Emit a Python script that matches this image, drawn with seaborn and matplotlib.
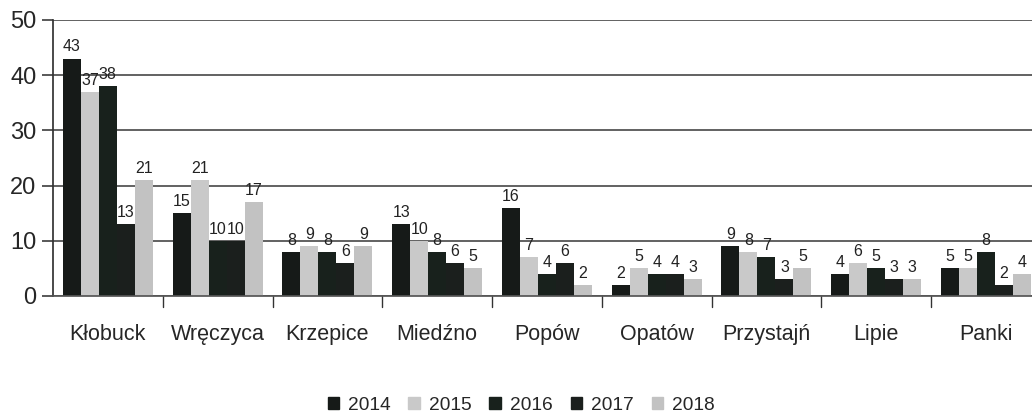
import matplotlib
matplotlib.use("Agg")
import matplotlib.pyplot as plt
import seaborn as sns
import pandas as pd

categories = ["Kłobuck", "Wręczyca", "Krzepice", "Miedźno", "Popów", "Opatów", "Przystajń", "Lipie", "Panki"]
years = ["2014", "2015", "2016", "2017", "2018"]
v2014 = [43, 15, 8, 13, 16, 2, 9, 4, 5]
v2015 = [37, 21, 9, 10, 7, 5, 8, 6, 5]
v2016 = [38, 10, 8, 8, 4, 4, 7, 5, 8]
v2017 = [13, 10, 6, 6, 6, 4, 3, 3, 2]
v2018 = [21, 17, 9, 5, 2, 3, 5, 3, 4]
series = [v2014, v2015, v2016, v2017, v2018]

rows = []
for y, vals in zip(years, series):
    for c, v in zip(categories, vals):
        rows.append({"gmina": c, "rok": y, "val": v})
df = pd.DataFrame(rows)

sns.set_theme(style="white")
plt.rcParams['font.family'] = ['Liberation Sans', 'DejaVu Sans']

palette = {"2014": "#161a18", "2015": "#c9c9c9", "2016": "#18211c", "2017": "#1b1f1d", "2018": "#c2c2c2"}

fig = plt.figure(figsize=(10.32, 4.16), dpi=100)
ax = fig.add_axes([53/1032, 1 - 296/416, (1032 - 53)/1032, (296 - 20)/416])

sns.barplot(data=df, x="gmina", y="val", hue="rok", order=categories, hue_order=years,
            palette=palette, width=0.82, dodge=True, ax=ax, legend=True, saturation=1,
            linewidth=0)

for cont in ax.containers:
    ax.bar_label(cont, padding=3, fontsize=11.5, color="#222222")

ax.set_ylim(0, 50)
ax.set_xlim(-0.5, 8.42)
ax.set_yticks([0, 10, 20, 30, 40, 50])
ax.yaxis.grid(True, color="#555555", linewidth=1.3)
ax.set_axisbelow(True)
for s in ["top", "right"]:
    ax.spines[s].set_visible(False)
ax.spines["left"].set_color("#333333")
ax.spines["bottom"].set_color("#555555")
ax.set_xlabel("")
ax.set_ylabel("")
ax.tick_params(axis="y", labelsize=17, left=True, length=8, color="#444444", pad=4)
ax.tick_params(axis="x", labelsize=15.5, bottom=False, pad=14)
ax.set_xticks(range(len(categories)))
ax.set_xticklabels(categories)
# boundary ticks
for b in range(1, len(categories)):
    ax.plot([b - 0.5, b - 0.5], [0, -2], color="#333333", lw=1, clip_on=False)

leg = ax.get_legend()
leg.remove()
handles = [plt.Rectangle((0, 0), 1, 1, color=palette[y]) for y in years]
fig.legend(handles, years, loc="center", bbox_to_anchor=(521/1032, 1 - 405/416), ncol=5,
           frameon=False, fontsize=13.8, handlelength=0.6, handleheight=0.6,
           handletextpad=0.45, columnspacing=0.95)

fig.savefig("out.png", dpi=100)
